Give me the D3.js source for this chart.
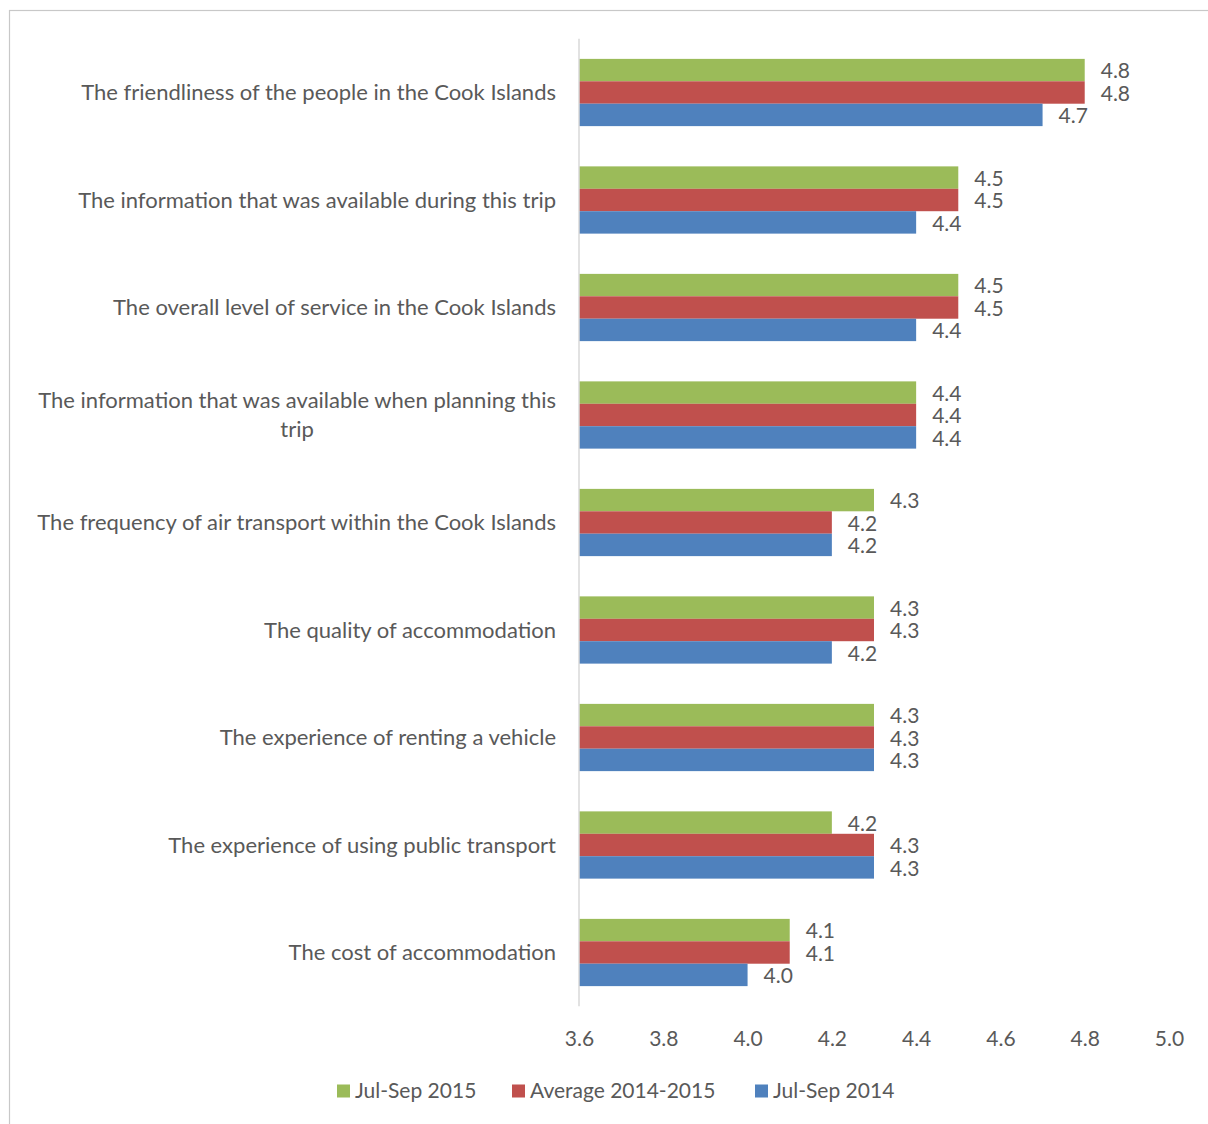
<!DOCTYPE html>
<html>
<head>
<meta charset="utf-8">
<script src="https://cdn.jsdelivr.net/npm/d3@7"></script>
<style>
  html, body { margin: 0; padding: 0; background: #fff; }
  svg { display: block; }
  text { font-family: Lato, "Open Sans", sans-serif; fill: #595959; }
</style>
</head>
<body>
<svg id="chart" width="1208" height="1124"></svg>
<script>
const categories = [
  "The friendliness of the people in the Cook Islands",
  "The information that was available during this trip",
  "The overall level of service in the Cook Islands",
  "The information that was available when planning this trip",
  "The frequency of air transport within the Cook Islands",
  "The quality of accommodation",
  "The experience of renting a vehicle",
  "The experience of using public transport",
  "The cost of accommodation"
];
const seriesNames = ["Jul-Sep 2015", "Average 2014-2015", "Jul-Sep 2014"];
const julSep2015 = [4.8, 4.5, 4.5, 4.4, 4.3, 4.3, 4.3, 4.2, 4.1];
const average2014_2015 = [4.8, 4.5, 4.5, 4.4, 4.2, 4.3, 4.3, 4.3, 4.1];
const julSep2014 = [4.7, 4.4, 4.4, 4.4, 4.2, 4.2, 4.3, 4.3, 4.0];
const xTicks = [3.6, 3.8, 4.0, 4.2, 4.4, 4.6, 4.8, 5.0];
const colors = ["#9BBB59", "#C0504D", "#4F81BD"];

const seriesValues = [julSep2015, average2014_2015, julSep2014];

const svg = d3.select("#chart");

// outer frame (top & left visible)
svg.append("rect")
  .attr("x", 9.5).attr("y", 10.5)
  .attr("width", 1300).attr("height", 1300)
  .attr("fill", "none").attr("stroke", "#c8c8c8").attr("stroke-width", 1.2);

const pLeft = 579, pRight = 1169, pTop = 38.75, pBottom = 1006.25;
const catFont = 22, valFont = 21;

const x = d3.scaleLinear().domain([3.6, 5.0]).range([pLeft, pRight]);
const y = d3.scaleBand().domain(categories).range([pTop, pBottom]);
const barH = y.step() * 0.2085;
const inner = d3.scaleBand().domain(seriesNames).range([-1.5 * barH, 1.5 * barH]);

// bars
seriesNames.forEach((name, si) => {
  const g = svg.append("g");
  const rows = categories.map((c, i) => ({ c, v: seriesValues[si][i] }));
  g.selectAll("rect")
    .data(rows)
    .join("rect")
    .attr("x", x(3.6))
    .attr("y", d => y(d.c) + y.step() / 2 + inner(name))
    .attr("width", d => x(d.v) - x(3.6))
    .attr("height", inner.bandwidth())
    .attr("fill", colors[si]);
  g.selectAll("text")
    .data(rows)
    .join("text")
    .attr("x", d => x(d.v) + 16)
    .attr("y", d => y(d.c) + y.step() / 2 + inner(name) + inner.bandwidth() / 2 + 1)
    .attr("dy", "0.35em")
    .attr("font-size", valFont)
    .text(d => d.v.toFixed(1));
});

// vertical axis line
svg.append("line")
  .attr("x1", pLeft).attr("x2", pLeft)
  .attr("y1", pTop).attr("y2", pBottom)
  .attr("stroke", "#d9d9d9").attr("stroke-width", 1.5);

// category labels with wrapping
const maxW = 530;
function measure(s) {
  const p = svg.append("text").attr("font-size", catFont).text(s);
  const w = p.node().getComputedTextLength();
  p.remove();
  return w;
}
categories.forEach(c => {
  const words = c.split(" ");
  const lines = [];
  let line = [];
  words.forEach(w => {
    line.push(w);
    if (measure(line.join(" ")) > maxW && line.length > 1) {
      line.pop();
      lines.push(line.join(" "));
      line = [w];
    }
  });
  lines.push(line.join(" "));
  const lh = 29.5;
  const cy = y(c) + y.step() / 2;
  const maxLine = d3.max(lines, measure);
  const cx = 556 - maxLine / 2;
  const t = svg.append("text").attr("text-anchor", "middle").attr("font-size", catFont);
  lines.forEach((l, i) => {
    t.append("tspan")
      .attr("x", cx)
      .attr("y", cy + (i - (lines.length - 1) / 2) * lh)
      .attr("dy", "0.35em")
      .text(l);
  });
});

// x axis tick labels
const xAxis = d3.axisBottom(x).tickValues(xTicks).tickFormat(d3.format(".1f")).tickSize(0).tickPadding(0);
const ax = svg.append("g").attr("transform", "translate(0, 1031)").call(xAxis);
ax.select(".domain").remove();
ax.selectAll("text").attr("font-size", valFont).attr("fill", "#595959").attr("font-family", "Lato, 'Open Sans', sans-serif");

// legend
const legendX = [337, 512, 755];
seriesNames.forEach((name, i) => {
  const g = svg.append("g").attr("transform", `translate(${legendX[i]}, 1091)`);
  g.append("rect").attr("x", 0).attr("y", -6.5).attr("width", 13).attr("height", 13).attr("fill", colors[i]);
  g.append("text").attr("x", 18).attr("dy", "0.35em").attr("font-size", valFont).text(name);
});
</script>
</body>
</html>
